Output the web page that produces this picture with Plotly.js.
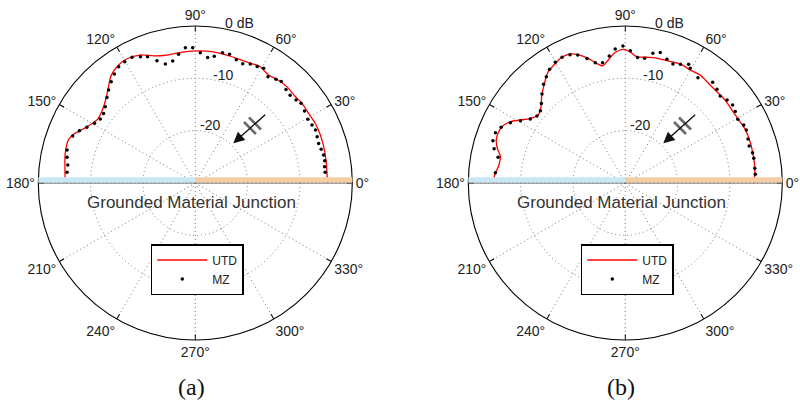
<!DOCTYPE html>
<html>
<head>
<meta charset="utf-8">
<script src="https://cdn.plot.ly/plotly-3.0.1.min.js"></script>
<style>
  html, body { margin: 0; padding: 0; background: #ffffff; }
  #chart { width: 800px; height: 406px; }
</style>
</head>
<body>
<div id="chart"></div>
<script>
// ---------- data (angles in degrees, levels in dB) ----------
const angleTickVals = [0, 30, 60, 90, 120, 150, 180, 210, 240, 270, 300, 330];
const radialTickVals = [-20, -10, 0];
const radialTickText = ['-20', '-10', '0 dB'];
const seriesNames = ['UTD', 'MZ'];
const panelLabels = ['(a)', '(b)'];
const junctionLabel = 'Grounded Material Junction';

// panel (a)
const utdThetaA = [0, 5, 10, 16, 21, 26, 32, 37, 41, 46, 51, 56, 61, 66, 73, 79, 85, 91, 97, 103, 108, 113, 119, 123, 128, 132, 137, 143, 147, 151, 155, 158, 161, 167, 173, 180];
const utdDbA    = [-4.8, -4.75, -4.65, -4.5, -4.4, -4.4, -4.6, -4.55, -4.75, -4.6, -4.75, -5.05, -4.55, -4.85, -4.9, -4.75, -4.7, -4.8, -4.9, -4.95, -4.45, -3.4, -2.9, -3.1, -3.9, -5.2, -6.6, -7.55, -7.7, -7.05, -6.0, -5.0, -4.4, -4.5, -4.9, -5.15];
const mzThetaA  = [4.7, 7.2, 9.8, 12.3, 15, 17.8, 20.8, 23.8, 26.4, 29.5, 33.4, 37, 39.5, 42.8, 45.9, 49.7, 52.1, 55.6, 59.2, 62, 65.2, 68.3, 71.6, 75.1, 78.2, 81.5, 84.4, 87.8, 91.1, 94.2, 97.4, 100.5, 104.1, 107.4, 110.7, 113.5, 116.7, 120.2, 123.4, 126.6, 129.7, 133, 135.9, 139.7, 142.8, 146, 149.3, 152.8, 155.7, 159, 165.6, 168.7, 172, 175.2];
const mzDbA     = [-5.1, -5.1, -4.9, -4.9, -5.1, -5.25, -5.1, -4.9, -5.1, -5.3, -5.0, -4.7, -5.05, -5.3, -5.1, -4.6, -4.9, -5.4, -4.5, -4.8, -4.95, -5.5, -5.2, -4.55, -4.55, -5.5, -5.9, -5.1, -4.15, -4.1, -5.2, -6.3, -6.55, -5.5, -4.2, -3.7, -3.1, -3.2, -3.4, -4.05, -4.85, -5.7, -6.5, -7.45, -8.0, -8.1, -7.6, -6.7, -5.7, -4.9, -4.7, -5.0, -5.4, -5.4];

// panel (b)
const utdThetaB = [0, 3, 6.5, 11.5, 17.5, 24, 29, 34.5, 40, 46, 52, 55, 60, 65, 71, 76, 80, 85, 88, 91, 94.5, 98, 101, 104, 107, 110, 113, 117, 120, 125, 129, 134, 138, 142, 146, 149, 152, 155.5, 158, 161.5, 165, 168, 172, 177, 180];
const utdDbB    = [-5.3, -5.25, -5.1, -5.0, -4.9, -4.9, -5.2, -5.3, -5.2, -5.3, -5.1, -4.9, -5.1, -4.95, -5.3, -5.4, -5.6, -5.75, -4.9, -4.45, -5.0, -6.3, -7.2, -6.3, -5.0, -3.95, -3.2, -3.1, -3.5, -4.2, -5.45, -7.0, -8.3, -8.9, -8.0, -6.6, -5.1, -4.1, -3.9, -4.0, -4.7, -5.6, -5.6, -4.95, -4.95];
const mzThetaB  = [3.8, 6.5, 10.9, 13.4, 16.6, 19.7, 23.7, 26.1, 29.5, 33, 36, 39.2, 42.5, 45.6, 49.1, 55.4, 60.5, 61.9, 65.1, 68.2, 71.4, 75, 78, 81.2, 84.4, 87.8, 91, 94.3, 97.2, 100.7, 104, 107.1, 110.4, 113.3, 116.7, 120.1, 123.7, 126.6, 129.6, 133.1, 136.5, 139.6, 142.8, 146, 149.3, 152.3, 155.8, 158.8, 162.3, 165.4, 168.6, 175.5];
const mzDbB     = [-5.1, -5.1, -5.0, -5.0, -5.3, -5.1, -4.75, -4.8, -5.3, -4.95, -4.65, -4.9, -5.4, -4.95, -4.5, -5.55, -4.8, -4.3, -5.0, -5.5, -5.06, -4.2, -4.65, -5.9, -5.9, -4.7, -3.8, -4.3, -5.55, -6.6, -6.3, -5.1, -3.9, -3.3, -3.1, -3.35, -3.9, -4.7, -5.5, -6.7, -7.9, -8.7, -8.8, -8.1, -6.7, -5.2, -4.0, -3.4, -3.45, -4.1, -5.2, -5.1];

// ---------- layout geometry ----------
const W = 800, H = 406;
const R = 157, CY = 183;
const centersX = [195.3, 625.3];
const FONT = 'Liberation Sans, Arial, Helvetica, sans-serif';
const rMin = -30, rMax = 0;
const GRID_DASH = '1px,3px';

const px = x => x / W;
const py = y => 1 - y / H;
// pixel radius of a dB level on the radial scale
const radPx = v => (v - rMin) / (rMax - rMin) * R;

const panels = [
  { sub: 'polar',  legend: 'legend',  utdT: utdThetaA, utdR: utdDbA, mzT: mzThetaA, mzR: mzDbA },
  { sub: 'polar2', legend: 'legend2', utdT: utdThetaB, utdR: utdDbB, mzT: mzThetaB, mzR: mzDbB }
];

const traces = [];
const layout = {
  width: W, height: H,
  margin: { l: 0, r: 0, t: 0, b: 0 },
  paper_bgcolor: '#ffffff',
  font: { family: FONT, color: '#222' },
  showlegend: true,
  annotations: [],
  shapes: []
};

panels.forEach((p, i) => {
  const cx = centersX[i];
  traces.push({
    type: 'scatterpolar', subplot: p.sub, legend: p.legend,
    name: seriesNames[0], r: p.utdR, theta: p.utdT, mode: 'lines',
    line: { color: '#ff0000', width: 1.3, shape: 'spline', smoothing: 0.8 },
    cliponaxis: false
  });
  traces.push({
    type: 'scatterpolar', subplot: p.sub, legend: p.legend,
    name: seriesNames[1], r: p.mzR, theta: p.mzT, mode: 'markers',
    marker: { color: '#000000', size: 3.5 },
    cliponaxis: false
  });

  layout[p.sub] = {
    domain: { x: [px(cx - R), px(cx + R)], y: [py(CY + R), py(CY - R)] },
    bgcolor: '#ffffff',
    angularaxis: {
      rotation: 0, direction: 'counterclockwise',
      tickmode: 'array', tickvals: angleTickVals,
      ticktext: angleTickVals.map(a => a + '°'),
      ticks: 'inside', ticklen: 5, tickcolor: '#000', tickwidth: 1,
      showline: true, linecolor: '#000', linewidth: 1.1,
      showgrid: true, gridcolor: '#777', gridwidth: 1, griddash: GRID_DASH,
      tickfont: { family: FONT, size: 14, color: '#222' }
    },
    radialaxis: {
      range: [rMin, rMax], tickvals: radialTickVals.slice(0, 2),
      showticklabels: false, ticks: '', showline: false,
      showgrid: true, gridcolor: '#777', gridwidth: 1, griddash: GRID_DASH,
      angle: 75
    }
  };

  // radial tick labels, just outside each ring at ~75 deg
  radialTickVals.forEach((v, k) => {
    const isOuter = v === rMax;
    const rp = radPx(v + (isOuter ? 1.7 : 1.4));
    const a = (isOuter ? 74.5 : 75.6) * Math.PI / 180;
    layout.annotations.push({ xref: 'paper', yref: 'paper',
      x: px(cx + rp * Math.cos(a)), y: py(CY - rp * Math.sin(a)),
      xanchor: 'center', yanchor: 'middle', showarrow: false,
      text: radialTickText[k], font: { family: FONT, size: 14, color: '#222' } });
  });

  layout[p.legend] = {
    x: px(cx - 44.5), y: py(244), xanchor: 'left', yanchor: 'top',
    bordercolor: '#000', borderwidth: 1.5, bgcolor: '#ffffff',
    font: { family: FONT, size: 12, color: '#222' },
    itemwidth: 50, tracegroupgap: 0
  };

  // junction bar (dielectric half / conductor half)
  layout.shapes.push({ type: 'rect', xref: 'paper', yref: 'paper', layer: 'above',
    x0: px(cx - R), x1: px(cx), y0: py(182.8), y1: py(177.3),
    fillcolor: '#cae7f4', line: { width: 0 } });
  layout.shapes.push({ type: 'rect', xref: 'paper', yref: 'paper', layer: 'above',
    x0: px(cx), x1: px(cx + R), y0: py(182.8), y1: py(177.3),
    fillcolor: '#f5cda3', line: { width: 0 } });
  layout.shapes.push({ type: 'line', xref: 'paper', yref: 'paper', layer: 'above',
    x0: px(cx - R), x1: px(cx + R), y0: py(183.2), y1: py(183.2),
    line: { color: '#666', width: 0.8 } });

  // incidence arrow with double hatch
  layout.annotations.push({ xref: 'paper', yref: 'paper',
    x: px(cx + 38), y: py(143.3), ax: 33.4, ay: -30, text: '',
    showarrow: true, arrowhead: 2, arrowsize: 1.6, arrowwidth: 1.4, arrowcolor: '#111' });
  layout.shapes.push({ type: 'line', xref: 'paper', yref: 'paper', layer: 'above',
    x0: px(cx + 48.7), y0: py(122), x1: px(cx + 60.7), y1: py(134),
    line: { color: '#6a6a6a', width: 2.6 } });
  layout.shapes.push({ type: 'line', xref: 'paper', yref: 'paper', layer: 'above',
    x0: px(cx + 53.7), y0: py(117.5), x1: px(cx + 65.7), y1: py(129.5),
    line: { color: '#6a6a6a', width: 2.6 } });

  layout.annotations.push({ xref: 'paper', yref: 'paper',
    x: px(cx - 3.5), y: py(202.5), xanchor: 'center', yanchor: 'middle',
    text: junctionLabel, showarrow: false,
    font: { family: FONT, size: 17, color: '#333' } });
  layout.annotations.push({ xref: 'paper', yref: 'paper',
    x: px(cx - 4), y: py(387), xanchor: 'center', yanchor: 'middle',
    text: panelLabels[i], showarrow: false,
    font: { family: 'Liberation Serif, Times New Roman, serif', size: 24, color: '#111' } });
});

Plotly.newPlot('chart', traces, layout, { staticPlot: true, displayModeBar: false });
</script>
</body>
</html>
